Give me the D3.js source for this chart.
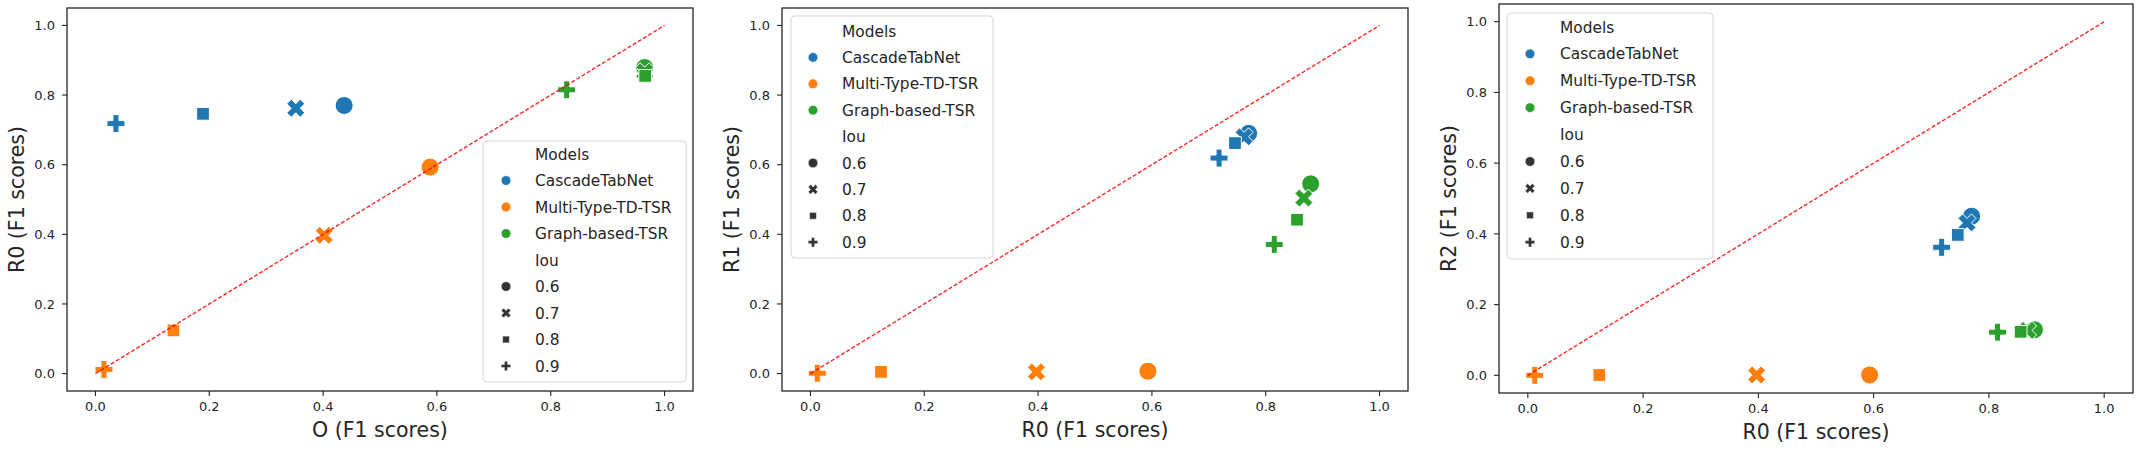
<!DOCTYPE html>
<html>
<head>
<meta charset="utf-8">
<script src="https://cdn.jsdelivr.net/npm/d3@7"></script>
<style>
  html, body { margin: 0; padding: 0; background: #fff; }
  svg { display: block; font-family: "DejaVu Sans", sans-serif; }
  .tick-label { font-size: 13px; fill: #262626; }
  .axis-label { font-size: 20.5px; fill: #262626; }
  .legend-text { font-size: 15.4px; fill: #262626; }
</style>
</head>
<body>
<svg id="chart" width="2142" height="450"></svg>
<script>
// ---- data ----
const models = ["CascadeTabNet", "Multi-Type-TD-TSR", "Graph-based-TSR"];
const ious = ["0.6", "0.7", "0.8", "0.9"];
const ticks = [0, 0.2, 0.4, 0.6, 0.8, 1.0];

// one row per model, one value per IoU threshold
const scoreO  = [[0.437, 0.352, 0.189, 0.036], [0.588, 0.402, 0.137, 0.015], [0.965, 0.965, 0.966, 0.828]];
const scoreR0 = [[0.770, 0.762, 0.746, 0.718], [0.593, 0.397, 0.124, 0.012], [0.879, 0.867, 0.855, 0.815]];
const scoreR1 = [[0.690, 0.680, 0.662, 0.619], [0.007, 0.005, 0.005, 0.001], [0.545, 0.504, 0.442, 0.371]];
const scoreR2 = [[0.450, 0.431, 0.397, 0.362], [0.001, 0.001, 0.001, 0.000], [0.129, 0.127, 0.123, 0.122]];

const colors = ["#1f77b4", "#ff7f0e", "#2ca02c"];

// ---- marker shapes (seaborn: o, X, square, P) ----
const polyType = pts => ({
  draw(ctx, size) {
    const r = Math.sqrt(size) / 2;
    pts.forEach(([px, py], i) => i ? ctx.lineTo(px * r, py * r) : ctx.moveTo(px * r, py * r));
    ctx.closePath();
  }
});
const circleType = { draw(ctx, size) { const r = Math.sqrt(size) / 2; ctx.moveTo(r, 0); ctx.arc(0, 0, r, 0, 2 * Math.PI); } };
const s2 = Math.SQRT1_2;
const squareType = polyType([[-s2, -s2], [s2, -s2], [s2, s2], [-s2, s2]]);
const xType = polyType([[-1, -2], [0, -1], [1, -2], [2, -1], [1, 0], [2, 1], [1, 2], [0, 1], [-1, 2], [-2, 1], [-1, 0], [-2, -1]].map(([a, b]) => [a / 2, b / 2]));
const plusType = polyType([[-1, -3], [-1, -1], [-3, -1], [-3, 1], [-1, 1], [-1, 3], [1, 3], [1, 1], [3, 1], [3, -1], [1, -1], [1, -3]].map(([a, b]) => [a / 3, b / 3]));
const shapes = [circleType, xType, squareType, plusType];

// long table
const rows = [];
models.forEach((m, mi) => {
  ious.forEach((iou, ii) => {
    rows.push({ mi, ii, O: scoreO[mi][ii], R0: scoreR0[mi][ii], R1: scoreR1[mi][ii], R2: scoreR2[mi][ii] });
  });
});

const panels = [
  { x: "O",  y: "R0", xl: "O (F1 scores)",  yl: "R0 (F1 scores)", left: 67,   top: 8, w: 626, h: 383, leg: { x: 483,  y: 141, w: 203, h: 241, mx: 23, tx: 52, row0: 13,  step: 26.5 } },
  { x: "R0", y: "R1", xl: "R0 (F1 scores)", yl: "R1 (F1 scores)", left: 782,  top: 8, w: 626, h: 383, leg: { x: 791,  y: 16,  w: 202, h: 242, mx: 22, tx: 51, row0: 15,  step: 26.4 } },
  { x: "R0", y: "R2", xl: "R0 (F1 scores)", yl: "R2 (F1 scores)", left: 1499, top: 4, w: 634, h: 389, leg: { x: 1507, y: 13,  w: 206, h: 246, mx: 23, tx: 53, row0: 14,  step: 26.9 } }
];

const svg = d3.select("#chart");
const fmt = d3.format(".1f");
const markerPx = 18;
const legendPx = 9.6;

panels.forEach(p => {
  const xScale = d3.scaleLinear().domain([-0.05, 1.05]).range([p.left, p.left + p.w]);
  const yScale = d3.scaleLinear().domain([-0.05, 1.05]).range([p.top + p.h, p.top]);
  const g = svg.append("g");

  // ticks
  const bottom = p.top + p.h;
  ticks.forEach(t => {
    g.append("line").attr("x1", xScale(t)).attr("x2", xScale(t))
      .attr("y1", bottom).attr("y2", bottom + 5).attr("stroke", "#262626").attr("stroke-width", 1.1);
    g.append("text").attr("class", "tick-label").attr("x", xScale(t)).attr("y", bottom + 20)
      .attr("text-anchor", "middle").text(fmt(t));
    g.append("line").attr("x1", p.left - 5).attr("x2", p.left)
      .attr("y1", yScale(t)).attr("y2", yScale(t)).attr("stroke", "#262626").attr("stroke-width", 1.1);
    g.append("text").attr("class", "tick-label").attr("x", p.left - 12).attr("y", yScale(t))
      .attr("dy", "0.36em").attr("text-anchor", "end").text(fmt(t));
  });

  // points
  g.selectAll("path.pt").data(rows).join("path")
    .attr("class", "pt")
    .attr("transform", d => `translate(${xScale(d[p.x])},${yScale(d[p.y])})`)
    .attr("d", d => d3.symbol().type(shapes[d.ii]).size(markerPx * markerPx)())
    .attr("fill", d => colors[d.mi])
    .attr("stroke", "#fff").attr("stroke-width", 1);

  // diagonal reference
  g.append("line")
    .attr("x1", xScale(0)).attr("y1", yScale(0)).attr("x2", xScale(1)).attr("y2", yScale(1))
    .attr("stroke", "#ff0000").attr("stroke-opacity", 0.85).attr("stroke-width", 1.4)
    .attr("stroke-dasharray", "4,2");

  // frame
  g.append("rect").attr("x", p.left).attr("y", p.top).attr("width", p.w).attr("height", p.h)
    .attr("fill", "none").attr("stroke", "#262626").attr("stroke-width", 1.3);

  // axis labels
  g.append("text").attr("class", "axis-label").attr("x", p.left + p.w / 2).attr("y", bottom + 46)
    .attr("text-anchor", "middle").text(p.xl);
  g.append("text").attr("class", "axis-label")
    .attr("transform", `translate(${p.left - 43},${p.top + p.h / 2}) rotate(-90)`)
    .attr("text-anchor", "middle").text(p.yl);

  // legend
  const L = p.leg;
  const lg = svg.append("g").attr("transform", `translate(${L.x},${L.y})`);
  lg.append("rect").attr("width", L.w).attr("height", L.h).attr("rx", 4)
    .attr("fill", "#fff").attr("fill-opacity", 0.8).attr("stroke", "#d6d6d6").attr("stroke-width", 1);
  const entries = [{ label: "Models" }]
    .concat(models.map((m, i) => ({ label: m, shape: circleType, color: colors[i] })))
    .concat([{ label: "Iou" }])
    .concat(ious.map((v, i) => ({ label: v, shape: shapes[i], color: "#333333" })));
  entries.forEach((e, i) => {
    const yy = L.row0 + i * L.step;
    if (e.shape) {
      lg.append("path").attr("transform", `translate(${L.mx},${yy})`)
        .attr("d", d3.symbol().type(e.shape).size(legendPx * legendPx)())
        .attr("fill", e.color).attr("stroke", "#fff").attr("stroke-width", 0.5);
    }
    lg.append("text").attr("class", "legend-text").attr("x", L.tx).attr("y", yy)
      .attr("dy", "0.36em").text(e.label);
  });
});
</script>
</body>
</html>
